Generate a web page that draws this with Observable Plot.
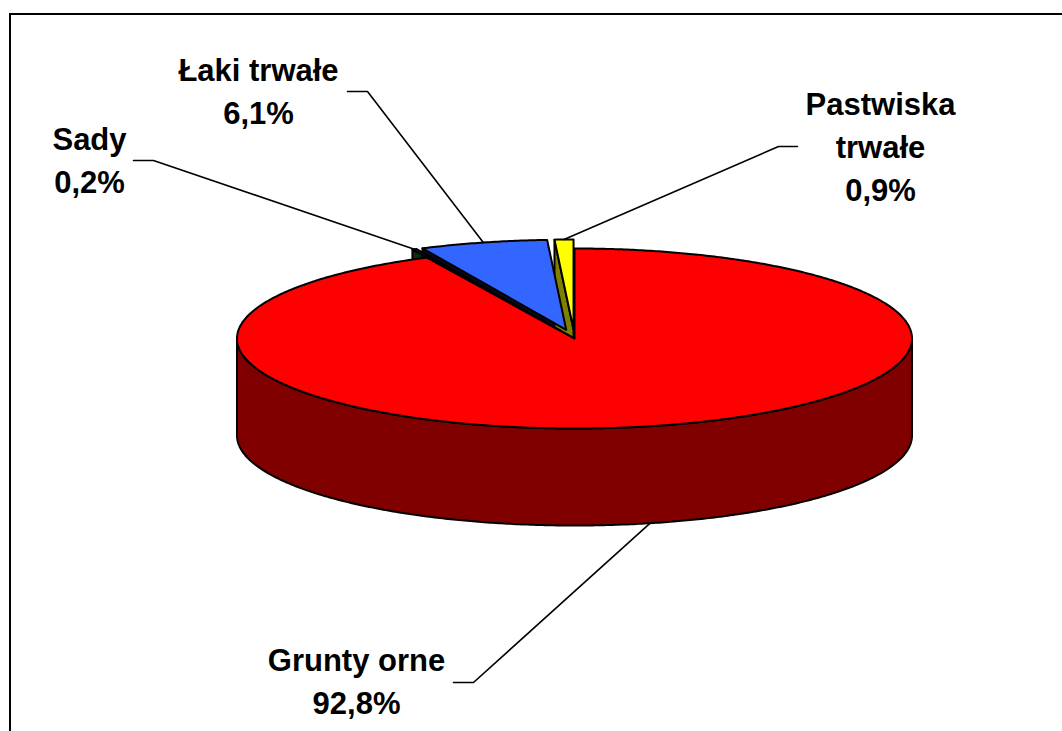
<!DOCTYPE html>
<html>
<head>
<meta charset="utf-8">
<script src="https://cdn.jsdelivr.net/npm/d3@7"></script>
<script src="https://cdn.jsdelivr.net/npm/@observablehq/plot@0.6"></script>
<style>
  html, body { margin: 0; padding: 0; background: #fff; overflow: hidden; }
  #wrap { position: relative; width: 1062px; height: 731px; overflow: hidden; }
  #frame { position: absolute; left: 9px; top: 13px; width: 1100px; height: 800px;
           border-top: 2.5px solid #000; border-left: 2.5px solid #000; box-sizing: border-box; }
  #chart { position: absolute; left: 0; top: 0; }
</style>
</head>
<body>
<div id="wrap"><div id="frame"></div><div id="chart"></div></div>
<script>
// ---- data ----
const categories = ["Grunty orne", "Sady", "Łaki trwałe", "Pastwiska trwałe"];
const shares = [92.8, 0.2, 6.1, 0.9];
const labelNames = ["Grunty orne", "Sady", "Łaki trwałe", "Pastwiska\ntrwałe"];
const topColors = ["#ff0000", "#1e5c1e", "#3366ff", "#ffff00"];
const sideColors = ["#800000", "#0e2e0e", "#0a0a26", "#808000"];
const explode = [0, 0.1, 0.1, 0.1];

// ---- layout ----
const W = 1062, H = 731;
const pie = {cx: 574, cy: 338, rx: 337.5, ry: 90, depth: 97};
const labelX = [356, 89, 258, 880];      // text centre
const labelY = [713, 192, 123, 200];     // last baseline
const leaderEndX = [453, 133, 347, 797];
const leaderEndY = [682, 160, 91, 146];
const elbowDX = [20, 20, 20, -19];

const rad = d => d * Math.PI / 180;
let acc = 0;
const slices = shares.map((v, i) => {
  const a0 = acc * 3.6; acc += v; const a1 = acc * 3.6;
  const mid = (a0 + a1) / 2;
  const e = explode[i];
  return {i, name: categories[i], v, a0, a1, mid,
    ox: e * pie.rx * Math.sin(rad(mid)), oy: -e * pie.ry * Math.cos(rad(mid))};
});
const pt = (s, a, h = 0) => ({
  x: pie.cx + s.ox + pie.rx * Math.sin(rad(a)),
  y: pie.cy + s.oy - pie.ry * Math.cos(rad(a)) + h
});
const ctr = (s, h = 0) => ({x: pie.cx + s.ox, y: pie.cy + s.oy + h});
function arc(s, a0, a1, h) {
  const n = Math.max(2, Math.ceil(Math.abs(a1 - a0) / 0.5) + 1);
  return d3.range(n).map(k => pt(s, a0 + (a1 - a0) * k / (n - 1), h));
}

const faces = [], walls = [], tops = [], leaders = [];
for (const s of slices) {
  // cut faces facing the viewer
  if (Math.sin(rad(s.a0)) < -1e-9)
    [ctr(s), pt(s, s.a0), pt(s, s.a0, pie.depth), ctr(s, pie.depth)]
      .forEach(p => faces.push({...p, id: "fs" + s.i, fill: sideColors[s.i]}));
  if (Math.sin(rad(s.a1)) > 1e-9)
    [ctr(s), pt(s, s.a1), pt(s, s.a1, pie.depth), ctr(s, pie.depth)]
      .forEach(p => faces.push({...p, id: "fe" + s.i, fill: sideColors[s.i]}));
  // outer front wall (90°..270°)
  const w0 = Math.max(s.a0, 90), w1 = Math.min(s.a1, 270);
  if (w1 > w0)
    [...arc(s, w0, w1, 0), ...arc(s, w1, w0, pie.depth)]
      .forEach(p => walls.push({...p, id: "w" + s.i, fill: sideColors[s.i]}));
  // top
  [ctr(s), ...arc(s, s.a0, s.a1, 0)]
    .forEach(p => tops.push({...p, id: "t" + s.i, fill: topColors[s.i]}));
  // leader line
  const front = s.mid > 90 && s.mid < 270;
  const anchor = pt(s, s.mid, front ? pie.depth : 0);
  [anchor, {x: leaderEndX[s.i] + elbowDX[s.i], y: leaderEndY[s.i]}, {x: leaderEndX[s.i], y: leaderEndY[s.i]}]
    .forEach(p => leaders.push({...p, id: "l" + s.i}));
}
const fmt = v => v.toFixed(1).replace(".", ",") + "%";
const labels = slices.map(s => ({x: labelX[s.i], y: labelY[s.i], text: labelNames[s.i] + "\n" + fmt(s.v)}));

const polyOpts = {x: "x", y: "y", z: "id", fill: "fill", stroke: "#000", strokeWidth: 2,
  strokeLinejoin: "round", curve: "linear-closed"};

const chart = Plot.plot({
  width: W, height: H,
  margin: 0,
  x: {domain: [0, W], range: [0, W], axis: null},
  y: {domain: [0, H], range: [0, H], axis: null},
  color: {type: "identity"},
  style: {background: "transparent", overflow: "visible"},
  marks: [
    Plot.line(faces, polyOpts),
    Plot.line(walls, polyOpts),
    Plot.line(tops, polyOpts),
    Plot.line(leaders, {x: "x", y: "y", z: "id", stroke: "#000", strokeWidth: 1.6}),
    Plot.text(labels, {x: "x", y: "y", text: "text", fontSize: 31, fontWeight: "bold",
      fontFamily: "'Liberation Sans', Arial, sans-serif", fill: "#000",
      textAnchor: "middle", lineAnchor: "bottom", lineHeight: 43 / 31})
  ]
});
document.getElementById("chart").appendChild(chart);
</script>
</body>
</html>
